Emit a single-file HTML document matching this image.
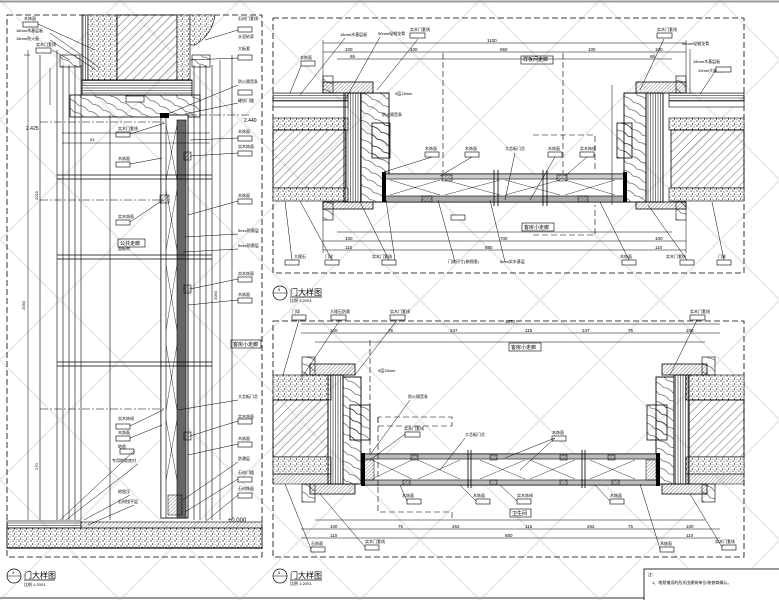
<!DOCTYPE html>
<html><head><meta charset="utf-8"><style>
html,body{margin:0;padding:0;background:#fff;}
svg{display:block;}
text{font-family:"Liberation Sans","Noto Sans CJK SC",sans-serif;fill:#000;}
</style></head><body>
<svg width="779" height="600" viewBox="0 0 779 600" xmlns="http://www.w3.org/2000/svg">
<defs>
<pattern id="hat" width="6" height="6" patternUnits="userSpaceOnUse" patternTransform="rotate(45)"><line x1="0" y1="0" x2="0" y2="6" stroke="#000" stroke-width="0.6"/></pattern>
<pattern id="hatf" width="2.5" height="2.5" patternUnits="userSpaceOnUse" patternTransform="rotate(45)"><line x1="0" y1="0" x2="0" y2="2.5" stroke="#000" stroke-width="0.5"/></pattern>
<pattern id="spk" width="6" height="5" patternUnits="userSpaceOnUse"><rect width="6" height="5" fill="#fff"/><circle cx="1" cy="1" r="0.6"/><circle cx="4" cy="2" r="0.5"/><circle cx="2.5" cy="4" r="0.6"/><circle cx="5" cy="4.5" r="0.4"/></pattern>
<pattern id="wood" width="12" height="8" patternUnits="userSpaceOnUse" patternTransform="rotate(30)"><path d="M0 4 Q6 1 12 4" fill="none" stroke="#000" stroke-width="0.45"/></pattern>
<pattern id="str" width="4" height="2.5" patternUnits="userSpaceOnUse"><line x1="0" y1="0.5" x2="4" y2="0.5" stroke="#000" stroke-width="0.5"/></pattern>
<pattern id="strv" width="2.5" height="4" patternUnits="userSpaceOnUse"><line x1="0.5" y1="0" x2="0.5" y2="4" stroke="#000" stroke-width="0.5"/></pattern>
<pattern id="wm" width="120" height="120" patternUnits="userSpaceOnUse"><path d="M0 0 L120 120 M120 0 L0 120" stroke="#eeeeee" stroke-width="2.5"/></pattern>
</defs>
<rect width="779" height="600" fill="#fff"/>
<rect width="779" height="600" fill="url(#wm)"/>
<line x1="0" y1="1.5" x2="779" y2="1.5" stroke="#999" stroke-width="2"/>
<line x1="0" y1="598" x2="779" y2="598" stroke="#999" stroke-width="2"/>

<!-- ============ LEFT PANEL ============ -->
<rect x="7" y="15" width="255" height="542" fill="none" stroke="#000" stroke-width="0.8" stroke-dasharray="6,3"/>
<g stroke="#000" stroke-width="0.6">
<line x1="40" y1="55" x2="40" y2="520"/>
<line x1="57" y1="50" x2="57" y2="520"/>
<line x1="63" y1="65" x2="63" y2="520"/>
<line x1="69" y1="65" x2="69" y2="520"/>
<line x1="75" y1="65" x2="75" y2="520"/>
<line x1="81" y1="65" x2="81" y2="520"/>
<line x1="110" y1="115" x2="110" y2="520"/>
<line x1="194" y1="65" x2="194" y2="520"/>
<line x1="200" y1="65" x2="200" y2="520"/>
<line x1="206" y1="65" x2="206" y2="520"/>
<line x1="212" y1="65" x2="212" y2="520"/>
<line x1="232" y1="55" x2="232" y2="520"/>
</g>
<rect x="82" y="15" width="6" height="65" fill="url(#strv)" stroke="#000" stroke-width="0.6"/>
<rect x="88" y="15" width="29" height="65" fill="url(#spk)" stroke="#000" stroke-width="0.6"/>
<rect x="117" y="15" width="60" height="65" fill="url(#hat)" stroke="#000" stroke-width="0.8"/>
<rect x="177" y="15" width="13" height="65" fill="url(#spk)" stroke="#000" stroke-width="0.6"/>
<path d="M190 15 L215 15 Q212 35 195 45 L190 45Z" fill="url(#spk)" stroke="#000" stroke-width="0.6"/>
<rect x="82" y="80" width="110" height="15" fill="url(#str)" stroke="#000" stroke-width="0.8"/>
<rect x="70" y="95" width="130" height="22" fill="url(#wood)" stroke="#000" stroke-width="0.8"/>
<rect x="60" y="55" width="20" height="12" fill="url(#wood)" stroke="#000" stroke-width="0.6"/>
<rect x="192" y="55" width="18" height="12" fill="url(#wood)" stroke="#000" stroke-width="0.6"/>
<rect x="126" y="96" width="18" height="6" fill="#fff" stroke="#000" stroke-width="0.6"/>
<rect x="161" y="115" width="27" height="403" fill="#fff" stroke="#000" stroke-width="0.9"/>
<rect x="161" y="115" width="5" height="403" fill="#fff" stroke="#000" stroke-width="0.6"/>
<rect x="177" y="120" width="9" height="398" fill="#666" stroke="#000" stroke-width="0.6"/>
<path d="M166 125 L177 180 M177 125 L166 180 M166 190 L177 250 M177 190 L166 250 M166 265 L177 330 M177 265 L166 330 M166 345 L177 410 M177 345 L166 410 M166 420 L177 480 M177 420 L166 480" stroke="#000" stroke-width="0.4"/>
<rect x="160" y="113" width="9" height="5" fill="#000"/>
<rect x="160" y="195" width="9" height="8" fill="url(#hatf)" stroke="#000" stroke-width="0.5"/>
<rect x="184" y="152" width="7" height="8" fill="url(#hatf)" stroke="#000" stroke-width="0.5"/>
<rect x="184" y="285" width="7" height="8" fill="url(#hatf)" stroke="#000" stroke-width="0.5"/>
<rect x="184" y="432" width="7" height="8" fill="url(#hatf)" stroke="#000" stroke-width="0.5"/>
<rect x="168" y="495" width="14" height="20" fill="url(#hatf)" stroke="#000" stroke-width="0.5"/>
<g stroke="#000" stroke-width="0.8">
<line x1="57" y1="175" x2="212" y2="175"/><line x1="57" y1="179" x2="212" y2="179"/>
<line x1="57" y1="255" x2="212" y2="255"/><line x1="57" y1="259" x2="212" y2="259"/>
<line x1="57" y1="362" x2="212" y2="362"/><line x1="57" y1="366" x2="212" y2="366"/>
</g>
<g stroke="#000" stroke-width="0.5" stroke-dasharray="8,2,2,2">
<line x1="40" y1="122" x2="165" y2="122"/><line x1="40" y1="200" x2="165" y2="200"/><line x1="40" y1="409" x2="165" y2="409"/>
<line x1="185" y1="115" x2="250" y2="115"/>
</g>
<rect x="7" y="521" width="74" height="7" fill="url(#str)" stroke="#000" stroke-width="0.6"/>
<rect x="81" y="522" width="181" height="14" fill="url(#hatf)" stroke="#000" stroke-width="0.6"/>
<rect x="7" y="528" width="255" height="20" fill="url(#spk)" stroke="#000" stroke-width="0.8"/>
<line x1="7" y1="548" x2="262" y2="548" stroke="#000" stroke-width="1.2"/>
<text x="228" y="522" font-size="6">±0.000</text>
<g font-size="5">
<text x="120" y="245">公共走廊</text><rect x="118" y="239" width="27" height="8" fill="none" stroke="#000" stroke-width="0.6"/>
<text x="233" y="346">客房小走廊</text><rect x="231" y="340" width="30" height="8" fill="none" stroke="#000" stroke-width="0.6"/>
<text x="26" y="130">2.425</text><text x="244" y="122">2.440</text>
</g>
<g font-size="4" fill="#000">
<text x="24" y="20">木饰面</text><text x="16" y="32">18mm木基层板</text><text x="16" y="40">18mm防火板</text><text x="36" y="46">实木门套线</text>
<text x="238" y="20">石材门套线</text><text x="238" y="38">水泥砂浆</text><text x="238" y="50">大板瓷</text><text x="238" y="83">防火隔音条</text><text x="238" y="102">硬质门槛</text>
<text x="238" y="133">木饰面</text><text x="238" y="148">实木饰面</text><text x="238" y="197">木饰面</text><text x="238" y="232">5mm防腐层</text><text x="238" y="247">5mm防腐层</text>
<text x="238" y="275">实木饰面</text><text x="238" y="296">木饰面</text><text x="238" y="398">大芯板门芯</text><text x="238" y="418">实木饰面</text><text x="238" y="440">木饰面</text>
<text x="238" y="460">防潮层</text><text x="238" y="474">石材门槛</text><text x="238" y="490">石材饰面</text>
<text x="118" y="130">实木门套线</text><text x="118" y="160">木饰面</text><text x="118" y="218">实木饰面</text><text x="118" y="250">面板材</text>
<text x="118" y="420">实木饰线</text><text x="118" y="434">木饰面</text><text x="118" y="448">地毯</text><text x="112" y="462">专用地毯底衬</text>
<text x="118" y="493">地毯压</text><text x="118" y="503">石材找平层</text>
</g>
<g fill="#fff" stroke="#000" stroke-width="0.6">
<rect x="23" y="22" width="15" height="5"/><rect x="36" y="48" width="15" height="5"/><rect x="238" y="27" width="14" height="5"/>
<rect x="238" y="55" width="14" height="5"/><rect x="238" y="90" width="14" height="5"/><rect x="238" y="136" width="14" height="5"/>
<rect x="238" y="151" width="14" height="5"/><rect x="238" y="199" width="14" height="5"/><rect x="238" y="277" width="14" height="5"/>
<rect x="238" y="298" width="14" height="5"/><rect x="238" y="419" width="14" height="5"/><rect x="238" y="442" width="14" height="5"/>
<rect x="238" y="477" width="14" height="5"/><rect x="238" y="493" width="14" height="5"/>
<rect x="116" y="132" width="14" height="5"/><rect x="116" y="162" width="14" height="5"/><rect x="116" y="220" width="14" height="5"/>
<rect x="116" y="424" width="14" height="5"/><rect x="116" y="436" width="14" height="5"/><rect x="120" y="449" width="14" height="5"/>
</g>
<g stroke="#000" stroke-width="0.5" fill="none">
<path d="M38 24 L95 50 M50 33 L100 68 M50 40 L96 70 M52 50 L70 60"/>
<path d="M238 30 L205 40 M238 58 L190 60 M238 85 L165 115 M238 103 L185 114 M238 138 L190 140 M238 153 L190 156 M238 201 L188 215 M238 234 L185 237 M238 249 L183 252 M238 279 L190 289 M238 300 L188 305"/>
<path d="M238 400 L178 410 M238 421 L190 436 M238 444 L188 455 M238 462 L183 500 M238 479 L185 512 M238 495 L205 522"/>
<path d="M130 134 L165 123 M130 164 L162 158 M130 222 L163 200 M130 426 L163 410 M130 438 L162 425 M134 451 L60 520 M138 464 L66 520 M130 495 L84 520 M134 505 L88 525"/>
</g>
<g stroke="#000" stroke-width="0.5">
<line x1="28" y1="50" x2="28" y2="520"/><line x1="24" y1="55" x2="30" y2="55"/>
<line x1="62" y1="143" x2="210" y2="143"/><line x1="62" y1="133" x2="210" y2="133"/>
<line x1="220" y1="60" x2="220" y2="520"/><line x1="50" y1="68" x2="50" y2="105"/>
</g>
<g font-size="4"><text x="25" y="310" transform="rotate(-90 25 310)">2050</text><text x="217" y="300" transform="rotate(-90 217 300)">2050</text>
<text x="38" y="200" transform="rotate(-90 38 200)">2015</text><text x="38" y="470" transform="rotate(-90 38 470)">270</text><text x="90" y="141">53</text></g>
<circle cx="14" cy="576" r="7" fill="none" stroke="#000" stroke-width="0.7"/><line x1="7" y1="576" x2="21" y2="576" stroke="#000" stroke-width="0.5"/>
<text x="12" y="574" font-size="4">3</text>
<text x="24" y="578" font-size="8">门大样图</text><line x1="24" y1="580" x2="55" y2="580" stroke="#000" stroke-width="0.7"/>
<text x="24" y="586" font-size="4">比例 1:20S1</text>

<!-- ============ TOP RIGHT PANEL ============ -->
<rect x="273" y="18" width="471" height="255" fill="none" stroke="#000" stroke-width="0.8" stroke-dasharray="6,3"/>
<rect x="273" y="93" width="75" height="8" fill="url(#str)" stroke="#000" stroke-width="0.6"/>
<rect x="273" y="101" width="75" height="6" fill="#fff" stroke="#000" stroke-width="0.6"/>
<rect x="273" y="118" width="75" height="12" fill="url(#spk)" stroke="#000" stroke-width="0.6"/>
<rect x="273" y="130" width="73" height="58" fill="url(#hat)" stroke="#000" stroke-width="0.8"/>
<rect x="273" y="188" width="75" height="13" fill="url(#spk)" stroke="#000" stroke-width="0.6"/>
<rect x="344" y="93" width="17" height="109" fill="url(#strv)" stroke="#000" stroke-width="0.9"/>
<rect x="361" y="93" width="28" height="109" fill="url(#wood)" stroke="#000" stroke-width="0.9"/>
<rect x="372" y="123" width="18" height="35" fill="url(#wood)" stroke="#000" stroke-width="0.8"/>
<rect x="323" y="82" width="50" height="11" fill="url(#hatf)" stroke="#000" stroke-width="0.8"/>
<rect x="323" y="76" width="10" height="17" fill="url(#wood)" stroke="#000" stroke-width="0.6"/>
<rect x="323" y="202" width="50" height="7" fill="url(#hatf)" stroke="#000" stroke-width="0.8"/>
<rect x="323" y="202" width="10" height="18" fill="url(#wood)" stroke="#000" stroke-width="0.6"/>
<rect x="669" y="93" width="75" height="8" fill="url(#str)" stroke="#000" stroke-width="0.6"/>
<rect x="669" y="101" width="75" height="6" fill="#fff" stroke="#000" stroke-width="0.6"/>
<rect x="669" y="118" width="75" height="12" fill="url(#spk)" stroke="#000" stroke-width="0.6"/>
<rect x="671" y="130" width="73" height="58" fill="url(#hat)" stroke="#000" stroke-width="0.8"/>
<rect x="669" y="188" width="75" height="13" fill="url(#spk)" stroke="#000" stroke-width="0.6"/>
<rect x="646" y="93" width="17" height="109" fill="url(#strv)" stroke="#000" stroke-width="0.9"/>
<rect x="624" y="93" width="22" height="109" fill="url(#wood)" stroke="#000" stroke-width="0.9"/>
<rect x="617" y="123" width="15" height="35" fill="url(#wood)" stroke="#000" stroke-width="0.8"/>
<rect x="636" y="82" width="50" height="11" fill="url(#hatf)" stroke="#000" stroke-width="0.8"/>
<rect x="676" y="76" width="10" height="17" fill="url(#wood)" stroke="#000" stroke-width="0.6"/>
<rect x="636" y="202" width="50" height="7" fill="url(#hatf)" stroke="#000" stroke-width="0.8"/>
<rect x="676" y="202" width="10" height="18" fill="url(#wood)" stroke="#000" stroke-width="0.6"/>
<rect x="384" y="174" width="242" height="28" fill="#fff" stroke="#000" stroke-width="1"/>
<rect x="384" y="174" width="242" height="5" fill="#ccc" stroke="#000" stroke-width="0.6"/>
<rect x="384" y="196" width="242" height="6" fill="#aaa" stroke="#000" stroke-width="0.6"/>
<path d="M390 180 L440 195 M440 180 L390 195 M445 180 L500 195 M500 180 L445 195 M505 180 L560 195 M560 180 L505 195 M565 180 L615 195 M615 180 L565 195" stroke="#000" stroke-width="0.4"/>
<rect x="382" y="172" width="4" height="30" fill="#000"/><rect x="623" y="172" width="4" height="30" fill="#000"/>
<rect x="442" y="175" width="10" height="6" fill="url(#hatf)" stroke="#000" stroke-width="0.5"/><rect x="557" y="175" width="10" height="6" fill="url(#hatf)" stroke="#000" stroke-width="0.5"/>
<rect x="422" y="196" width="10" height="6" fill="url(#hatf)" stroke="#000" stroke-width="0.5"/><rect x="578" y="196" width="10" height="6" fill="url(#hatf)" stroke="#000" stroke-width="0.5"/>
<g stroke="#000" stroke-width="0.8"><line x1="494" y1="170" x2="494" y2="206"/><line x1="498" y1="170" x2="498" y2="206"/><line x1="543" y1="170" x2="543" y2="206"/><line x1="547" y1="170" x2="547" y2="206"/></g>
<g stroke="#000" stroke-width="0.6" stroke-dasharray="6,3" fill="none">
<line x1="443" y1="53" x2="443" y2="173"/><line x1="563" y1="53" x2="563" y2="173"/>
<path d="M533 135 L595 135 L595 172"/><path d="M533 235 L595 235 L595 205"/>
</g>
<g stroke="#000" stroke-width="0.5">
<line x1="323" y1="43" x2="686" y2="43"/><line x1="323" y1="52" x2="686" y2="52"/><line x1="337" y1="59" x2="672" y2="59"/>
<line x1="337" y1="232" x2="672" y2="232"/><line x1="323" y1="241" x2="686" y2="241"/><line x1="323" y1="250" x2="686" y2="250"/>
<line x1="323" y1="40" x2="323" y2="82"/><line x1="686" y1="40" x2="686" y2="82"/><line x1="323" y1="220" x2="323" y2="253"/><line x1="686" y1="220" x2="686" y2="253"/>
<line x1="612" y1="85" x2="612" y2="205"/>
</g>
<g font-size="4.5">
<text x="487" y="42">1100</text><text x="345" y="51">100</text><text x="410" y="51">100</text><text x="500" y="51">650</text><text x="588" y="51">100</text><text x="655" y="51">100</text>
<text x="350" y="58">65</text><text x="650" y="58">65</text>
<text x="500" y="240">700</text><text x="485" y="249">880</text><text x="345" y="249">110</text><text x="655" y="249">110</text><text x="345" y="240">100</text><text x="655" y="240">100</text>
</g>
<g font-size="5"><text x="523" y="61">样板间走廊</text><rect x="521" y="56" width="32" height="8" fill="none" stroke="#000" stroke-width="0.6"/>
<text x="524" y="229">客房小走廊</text><rect x="522" y="223" width="32" height="8" fill="none" stroke="#000" stroke-width="0.6"/></g>
<g font-size="4"><text x="340" y="36">18mm木基层板</text><text x="378" y="35">50mm轻钢龙骨</text><text x="410" y="31">实木门套线</text><text x="300" y="59">木饰面</text>
<text x="657" y="31">实木门套线</text><text x="682" y="45">50mm轻钢龙骨</text><text x="693" y="63">18mm木基层板</text><text x="698" y="72">10mm大板瓷砖</text>
<text x="425" y="150">木饰面</text><text x="465" y="150">木饰面</text><text x="505" y="150">大芯板门芯</text><text x="548" y="150">木饰面</text><text x="580" y="150">实木饰线</text>
<text x="382" y="116">防火隔音条</text><text x="395" y="95">9层15mm</text><text x="448" y="263">门扇尺寸(参照图)</text><text x="500" y="263">5mm实木基层</text>
<text x="294" y="258">大理石</text><text x="325" y="258">门垛</text><text x="372" y="258">实木门套线</text><text x="620" y="258">木饰面</text><text x="666" y="258">实木门套线</text><text x="718" y="258">门垛</text>
</g>
<g fill="#fff" stroke="#000" stroke-width="0.6">
<rect x="410" y="33" width="15" height="5"/><rect x="301" y="61" width="14" height="5"/><rect x="657" y="33" width="15" height="5"/><rect x="716" y="67" width="15" height="5"/>
<rect x="425" y="152" width="14" height="5"/><rect x="465" y="152" width="14" height="5"/><rect x="548" y="152" width="14" height="5"/><rect x="580" y="152" width="14" height="5"/>
<rect x="451" y="215" width="14" height="5"/>
<rect x="285" y="260" width="14" height="5"/><rect x="325" y="260" width="14" height="5"/><rect x="382" y="260" width="14" height="5"/><rect x="622" y="260" width="14" height="5"/><rect x="680" y="260" width="14" height="5"/><rect x="717" y="260" width="14" height="5"/>
</g>
<g stroke="#000" stroke-width="0.5" fill="none">
<path d="M345 38 L300 95 M380 37 L345 100 M418 39 L377 90 M301 66 L290 93 M664 39 L640 90 M690 49 L690 94 M716 70 L700 94"/>
<path d="M432 157 L384 172 M472 157 L440 176 M515 153 L505 200 M555 157 L530 200 M587 157 L565 176"/>
<path d="M292 260 L285 201 M332 260 L300 201 M389 260 L360 202 M395 260 L386 200 M455 262 L438 200 M505 262 L490 200 M629 260 L600 202 M687 260 L648 205 M724 260 L712 202"/>
</g>
<circle cx="280" cy="293" r="7" fill="none" stroke="#000" stroke-width="0.7"/><line x1="273" y1="293" x2="287" y2="293" stroke="#000" stroke-width="0.5"/>
<text x="278" y="291" font-size="4">5</text>
<text x="290" y="295" font-size="8">门大样图</text><line x1="290" y1="297" x2="322" y2="297" stroke="#000" stroke-width="0.7"/>
<text x="290" y="302" font-size="4">比例 1:20S1</text>

<!-- ============ BOTTOM RIGHT PANEL ============ -->
<rect x="273" y="321" width="471" height="236" fill="none" stroke="#000" stroke-width="0.8" stroke-dasharray="6,3"/>
<rect x="273" y="375" width="58" height="25" fill="url(#spk)" stroke="#000" stroke-width="0.6"/>
<rect x="273" y="400" width="55" height="57" fill="url(#hat)" stroke="#000" stroke-width="0.8"/>
<rect x="273" y="457" width="58" height="17" fill="url(#spk)" stroke="#000" stroke-width="0.6"/>
<rect x="273" y="474" width="58" height="10" fill="url(#hatf)" stroke="#000" stroke-width="0.5"/>
<rect x="328" y="375" width="15" height="109" fill="url(#strv)" stroke="#000" stroke-width="0.9"/>
<rect x="343" y="377" width="18" height="107" fill="url(#wood)" stroke="#000" stroke-width="0.9"/>
<rect x="350" y="405" width="20" height="35" fill="url(#wood)" stroke="#000" stroke-width="0.8"/>
<rect x="310" y="364" width="45" height="11" fill="url(#hatf)" stroke="#000" stroke-width="0.8"/>
<rect x="302" y="357" width="13" height="18" fill="url(#wood)" stroke="#000" stroke-width="0.6"/>
<rect x="310" y="484" width="45" height="10" fill="url(#hatf)" stroke="#000" stroke-width="0.8"/>
<rect x="302" y="484" width="13" height="18" fill="url(#wood)" stroke="#000" stroke-width="0.6"/>
<rect x="686" y="375" width="58" height="25" fill="url(#spk)" stroke="#000" stroke-width="0.6"/>
<rect x="689" y="400" width="55" height="57" fill="url(#hat)" stroke="#000" stroke-width="0.8"/>
<rect x="686" y="457" width="58" height="17" fill="url(#spk)" stroke="#000" stroke-width="0.6"/>
<rect x="686" y="474" width="58" height="10" fill="url(#hatf)" stroke="#000" stroke-width="0.5"/>
<rect x="674" y="375" width="15" height="109" fill="url(#strv)" stroke="#000" stroke-width="0.9"/>
<rect x="656" y="377" width="18" height="107" fill="url(#wood)" stroke="#000" stroke-width="0.9"/>
<rect x="647" y="405" width="20" height="35" fill="url(#wood)" stroke="#000" stroke-width="0.8"/>
<rect x="662" y="364" width="45" height="11" fill="url(#hatf)" stroke="#000" stroke-width="0.8"/>
<rect x="702" y="357" width="13" height="18" fill="url(#wood)" stroke="#000" stroke-width="0.6"/>
<rect x="662" y="484" width="45" height="10" fill="url(#hatf)" stroke="#000" stroke-width="0.8"/>
<rect x="702" y="484" width="13" height="18" fill="url(#wood)" stroke="#000" stroke-width="0.6"/>
<rect x="362" y="454" width="296" height="31" fill="#fff" stroke="#000" stroke-width="1"/>
<rect x="362" y="454" width="296" height="5" fill="#bbb" stroke="#000" stroke-width="0.6"/>
<rect x="362" y="480" width="296" height="5" fill="#bbb" stroke="#000" stroke-width="0.6"/>
<path d="M372 460 L412 479 M412 460 L372 479 M418 460 L460 479 M460 460 L418 479 M480 460 L525 479 M525 460 L480 479 M530 460 L575 479 M575 460 L530 479 M590 460 L635 479 M635 460 L590 479" stroke="#000" stroke-width="0.4"/>
<rect x="361" y="453" width="4" height="33" fill="#000"/><rect x="656" y="453" width="4" height="33" fill="#000"/>
<rect x="364" y="460" width="10" height="20" fill="url(#hatf)" stroke="#000" stroke-width="0.5"/><rect x="646" y="460" width="10" height="20" fill="url(#hatf)" stroke="#000" stroke-width="0.5"/>
<g fill="url(#hatf)" stroke="#000" stroke-width="0.5"><rect x="411" y="455" width="7" height="5"/><rect x="490" y="455" width="7" height="5"/><rect x="560" y="455" width="7" height="5"/><rect x="608" y="455" width="7" height="5"/>
<rect x="403" y="480" width="7" height="5"/><rect x="490" y="480" width="7" height="5"/><rect x="560" y="480" width="7" height="5"/><rect x="612" y="480" width="7" height="5"/></g>
<g stroke="#000" stroke-width="0.8"><line x1="468" y1="450" x2="468" y2="488"/><line x1="471" y1="450" x2="471" y2="488"/><line x1="582" y1="450" x2="582" y2="488"/><line x1="585" y1="450" x2="585" y2="488"/></g>
<g stroke="#000" stroke-width="0.6" stroke-dasharray="6,3" fill="none">
<line x1="370" y1="340" x2="370" y2="453"/><path d="M378 417 L378 426 L452 426 L452 417 L378 417"/><path d="M378 487 L378 512 L452 512 L452 520"/><line x1="378" y1="417" x2="378" y2="487"/>
</g>
<g stroke="#000" stroke-width="0.5">
<line x1="301" y1="324" x2="720" y2="324"/><line x1="301" y1="333" x2="720" y2="333"/><line x1="315" y1="342" x2="705" y2="342"/>
<line x1="315" y1="520" x2="705" y2="520"/><line x1="301" y1="529" x2="720" y2="529"/><line x1="301" y1="538" x2="720" y2="538"/>
</g>
<g font-size="4.5">
<text x="505" y="323">1070</text><text x="330" y="332">100</text><text x="388" y="332">75</text><text x="450" y="332">247</text><text x="525" y="332">115</text><text x="582" y="332">247</text><text x="628" y="332">75</text><text x="686" y="332">100</text>
<text x="330" y="528">100</text><text x="398" y="528">75</text><text x="452" y="528">262</text><text x="525" y="528">115</text><text x="587" y="528">262</text><text x="628" y="528">75</text><text x="686" y="528">100</text>
<text x="505" y="537">850</text><text x="330" y="537">110</text><text x="686" y="537">110</text>
</g>
<g font-size="5"><text x="511" y="349">客房小走廊</text><rect x="509" y="343" width="32" height="8" fill="none" stroke="#000" stroke-width="0.6"/>
<text x="512" y="515">卫生间</text><rect x="510" y="509" width="21" height="8" fill="none" stroke="#000" stroke-width="0.6"/></g>
<g font-size="4"><text x="292" y="313">门垛</text><text x="330" y="313">大理石防腐</text><text x="390" y="313">实木门套线</text><text x="690" y="313">实木门套线</text>
<text x="404" y="430">实木门套线</text><text x="465" y="436">大芯板门芯</text><text x="552" y="434">木饰面</text><text x="408" y="398">防火隔音条</text><text x="378" y="372">9层15mm</text>
<text x="402" y="497">木饰面</text><text x="473" y="497">木饰面</text><text x="517" y="497">实木饰线</text><text x="610" y="497">木饰面</text>
<text x="311" y="545">石饰面</text><text x="365" y="543">实木门套线</text><text x="660" y="545">木饰面</text><text x="715" y="543">实木门套线</text></g>
<g fill="#fff" stroke="#000" stroke-width="0.6">
<rect x="292" y="315" width="14" height="5"/><rect x="331" y="315" width="15" height="5"/><rect x="390" y="315" width="15" height="5"/><rect x="690" y="315" width="15" height="5"/>
<rect x="405" y="432" width="15" height="5"/><rect x="552" y="436" width="14" height="5"/>
<rect x="407" y="499" width="14" height="5"/><rect x="476" y="499" width="14" height="5"/><rect x="517" y="499" width="14" height="5"/><rect x="610" y="499" width="14" height="5"/>
<rect x="311" y="547" width="14" height="5"/><rect x="365" y="545" width="14" height="5"/><rect x="660" y="547" width="14" height="5"/><rect x="722" y="545" width="14" height="5"/>
</g>
<g stroke="#000" stroke-width="0.5" fill="none">
<path d="M299 320 L283 375 M340 320 L300 380 M397 320 L355 375 M697 320 L670 375 M405 434 L370 460 M465 438 L440 470 M555 438 L520 470 M555 438 L505 458 M410 400 L370 455"/>
<path d="M407 501 L400 485 M476 501 L460 485 M517 501 L500 485 M610 501 L595 485 M311 549 L285 484 M365 547 L320 494 M660 549 L640 484 M722 547 L690 494"/>
</g>
<circle cx="280" cy="576" r="7" fill="none" stroke="#000" stroke-width="0.7"/><line x1="273" y1="576" x2="287" y2="576" stroke="#000" stroke-width="0.5"/>
<text x="278" y="574" font-size="4">6</text>
<text x="290" y="578" font-size="8">门大样图</text><line x1="290" y1="580" x2="322" y2="580" stroke="#000" stroke-width="0.7"/>
<text x="290" y="585" font-size="4">比例 1:20S1</text>
<rect x="644" y="569" width="136" height="32" fill="#fff" stroke="#000" stroke-width="0.8"/>
<text x="648" y="576" font-size="4">注：</text>
<text x="652" y="584" font-size="4">1、地毯铺设的形式由建筑单位/装修商确认。</text>
</svg>
</body></html>
